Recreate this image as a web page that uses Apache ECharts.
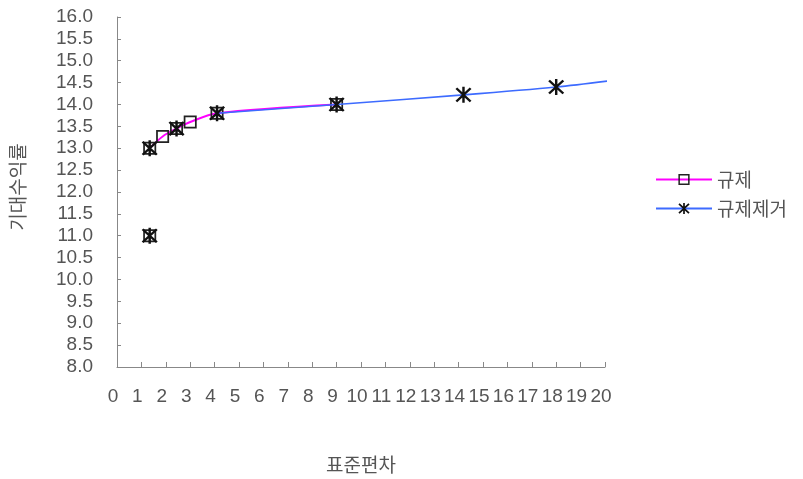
<!DOCTYPE html>
<html>
<head>
<meta charset="utf-8">
<script src="https://cdn.jsdelivr.net/npm/echarts@6/dist/echarts.min.js"></script>
<style>html,body{margin:0;padding:0;background:#fff;}#c{width:803px;height:479px;}</style>
</head>
<body>
<div id="c"></div>
<script>
// Data
const seriesNames = ['규제', '규제제거'];
const xAxisName = '표준편차';
const yAxisName = '기대수익률';
// '-' marks a break in the line
const regulated = [[1.34, 11.0], ['-', '-'], [1.34, 13.0], [1.87, 13.27], [2.44, 13.45], [3.0, 13.6], [4.1, 13.8], [9.0, 14.0]];
const deregulated = [[1.34, 11.0], ['-', '-'], [1.34, 13.0], ['-', '-'], [2.44, 13.45], ['-', '-'], [4.1, 13.8], [9.0, 14.0], [14.2, 14.22], [18.0, 14.4], [20.3, 14.55]];

const squarePath = 'path://M0,0 L12,0 L12,12 L0,12 Z M1.6,1.6 L1.6,10.4 L10.4,10.4 L10.4,1.6 Z';
const starPath = 'path://M-1.4,-10 L1.4,-10 L1.4,10 L-1.4,10 Z ' +
  'M-9.2,-7.2 L-7.2,-9.2 L9.2,7.2 L7.2,9.2 Z ' +
  'M7.2,-9.2 L9.2,-7.2 L-7.2,9.2 L-9.2,7.2 Z';

const derData = deregulated.map((p, i) => i === deregulated.length - 1 ? { value: p, symbol: 'none' } : p);

const chart = echarts.init(document.getElementById('c'));
const labelFont = { color: '#555', fontSize: 19, fontFamily: 'Liberation Sans, Arial, sans-serif' };
chart.setOption({
  animation: false,
  backgroundColor: '#fff',
  grid: { left: 113, top: 17, right: 198, bottom: 109, containLabel: false },
  legend: {
    orient: 'vertical', left: 650, top: 165,
    itemWidth: 56, itemHeight: 14, itemGap: 10,
    textStyle: { color: '#555', fontSize: 19, fontFamily: 'Noto Sans CJK KR, sans-serif' },
    data: seriesNames
  },
  xAxis: {
    type: 'value', min: 0, max: 20, interval: 1,
    name: xAxisName, nameLocation: 'middle', nameGap: 88,
    nameTextStyle: { color: '#555', fontSize: 19, fontFamily: 'Noto Sans CJK KR, sans-serif' },
    axisLine: { lineStyle: { color: '#888', width: 1 } },
    axisTick: { inside: true, length: 5, lineStyle: { color: '#888' } },
    splitLine: { show: false },
    axisLabel: Object.assign({ margin: 20, padding: [0, 8, 0, 0] }, labelFont)
  },
  yAxis: {
    type: 'value', min: 8, max: 16, interval: 0.5,
    name: yAxisName, nameLocation: 'middle', nameGap: 90, nameRotate: 90,
    nameTextStyle: { color: '#555', fontSize: 19, fontFamily: 'Noto Sans CJK KR, sans-serif', padding: [0, 0, 0, 10] },
    axisLine: { show: true, lineStyle: { color: '#888', width: 1 } },
    axisTick: { show: true, inside: true, length: 4, lineStyle: { color: '#888' } },
    splitLine: { show: false },
    axisLabel: Object.assign({ margin: 24, formatter: v => v.toFixed(1) }, labelFont)
  },
  series: [
    {
      name: seriesNames[0], type: 'line', data: regulated, z: 2,
      smooth: 0.3, connectNulls: false, showSymbol: true, showAllSymbol: true,
      symbol: squarePath, symbolSize: 13,
      lineStyle: { color: '#ff00ff', width: 2 },
      itemStyle: { color: '#222' }
    },
    {
      name: seriesNames[1], type: 'line', data: derData, z: 3, clip: false,
      smooth: 0.3, connectNulls: false, showSymbol: true, showAllSymbol: true,
      symbol: starPath, symbolSize: 16,
      lineStyle: { color: '#3d6bff', width: 1.6 },
      itemStyle: { color: '#111' }
    }
  ]
});
</script>
</body>
</html>
